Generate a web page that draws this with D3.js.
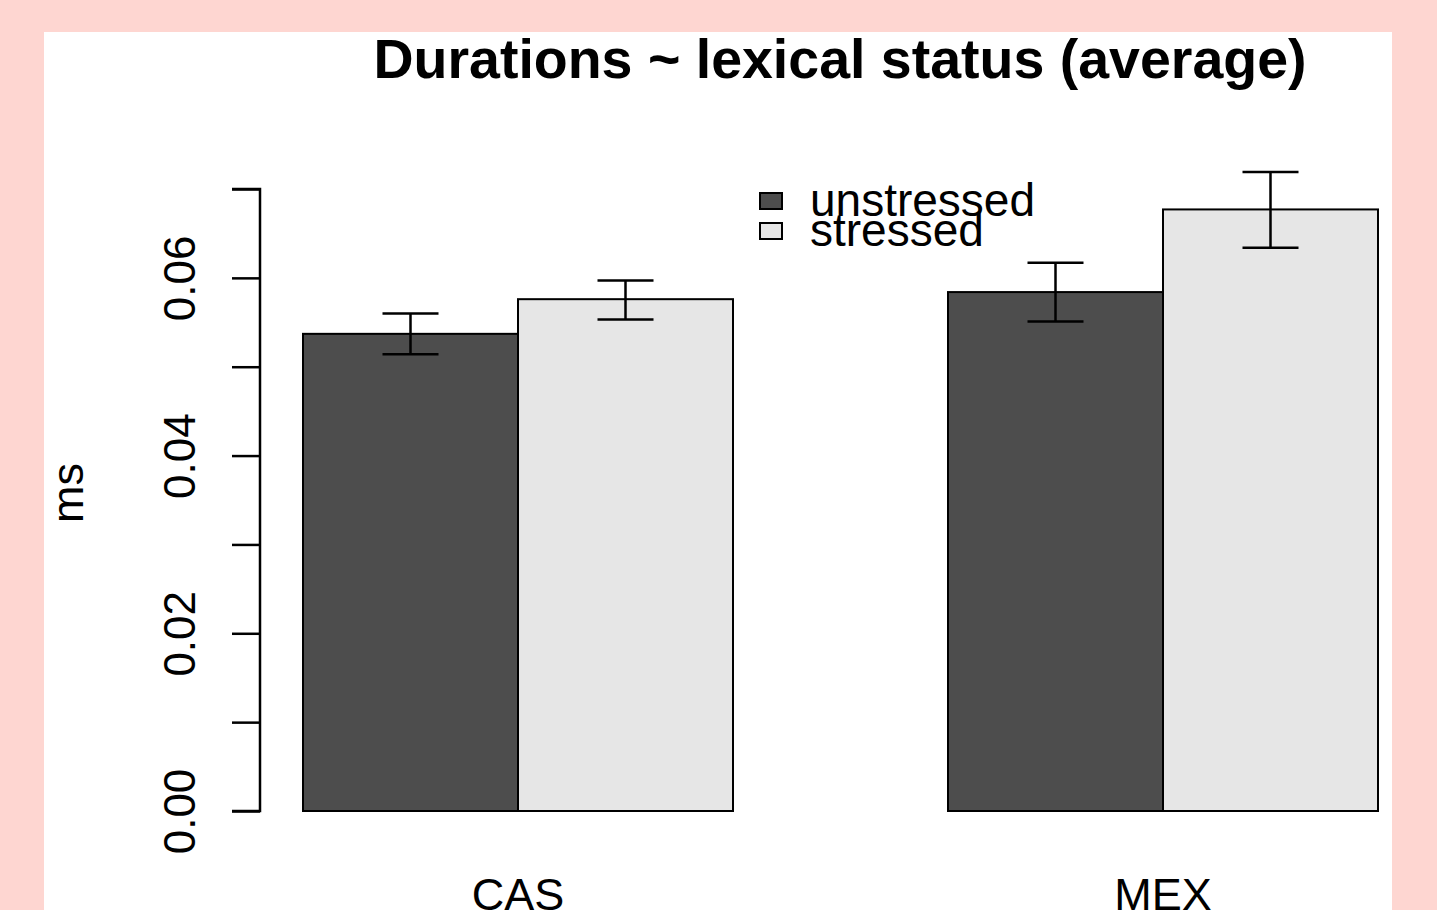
<!DOCTYPE html>
<html>
<head>
<meta charset="utf-8">
<script src="https://cdn.jsdelivr.net/npm/d3@7"></script>
<style>
  body { margin: 0; background: #fed6d1; }
  svg { display: block; font-family: "Liberation Sans", Arial, sans-serif; }
</style>
</head>
<body>
<div id="chart"></div>
<script>
// data
const groups = ["CAS", "MEX"];
const seriesNames = ["unstressed", "stressed"];
const seriesColors = ["#4d4d4d", "#e6e6e6"];
const means = [[0.0537, 0.0576], [0.0584, 0.0677]];
const lower = [[0.0514, 0.0553], [0.0551, 0.0634]];
const upper = [[0.0560, 0.0597], [0.0617, 0.0719]];
const yTicks = [0, 0.01, 0.02, 0.03, 0.04, 0.05, 0.06, 0.07];
const yTickLabels = ["0.00", "", "0.02", "", "0.04", "", "0.06", ""];

const W = 1437, H = 910;
const svg = d3.select("#chart").append("svg")
  .attr("width", W).attr("height", H);

// white panel
svg.append("rect")
  .attr("x", 44).attr("y", 32)
  .attr("width", 1348).attr("height", H - 32)
  .attr("fill", "#fff");

// R-style bar positions: each group = 2 bars, 1 bar of space before
const x = d3.scaleLinear().domain([0, 6]).range([88, 1378]);
const y = d3.scaleLinear().domain([0, 0.07]).range([811, 189]);

const bars = [];
groups.forEach((g, gi) => {
  seriesNames.forEach((s, si) => {
    const pos = gi * 3 + 1 + si;
    bars.push({ g, s, si, pos, v: means[gi][si], lo: lower[gi][si], hi: upper[gi][si] });
  });
});

svg.selectAll(".bar")
  .data(bars)
  .enter().append("rect")
  .attr("class", "bar")
  .attr("x", d => x(d.pos))
  .attr("y", d => y(d.v))
  .attr("width", d => x(d.pos + 1) - x(d.pos))
  .attr("height", d => y(0) - y(d.v))
  .attr("fill", d => seriesColors[d.si])
  .attr("stroke", "#000")
  .attr("stroke-width", 2);

// error bars
const capHalf = 28;
const err = svg.selectAll(".err")
  .data(bars)
  .enter().append("g")
  .attr("class", "err")
  .attr("stroke", "#000")
  .attr("stroke-width", 2.5);

err.append("line")
  .attr("x1", d => x(d.pos + 0.5)).attr("x2", d => x(d.pos + 0.5))
  .attr("y1", d => y(d.lo)).attr("y2", d => y(d.hi));
err.append("line")
  .attr("x1", d => x(d.pos + 0.5) - capHalf).attr("x2", d => x(d.pos + 0.5) + capHalf)
  .attr("y1", d => y(d.hi)).attr("y2", d => y(d.hi));
err.append("line")
  .attr("x1", d => x(d.pos + 0.5) - capHalf).attr("x2", d => x(d.pos + 0.5) + capHalf)
  .attr("y1", d => y(d.lo)).attr("y2", d => y(d.lo));

// y axis
const yAxis = svg.append("g")
  .attr("transform", "translate(260,0)")
  .call(d3.axisLeft(y).tickValues(yTicks).tickSize(28).tickFormat((d, i) => yTickLabels[i]));
yAxis.select(".domain")
  .attr("d", `M-28,${y(0.07)}H0V${y(0)}H-28`)
  .attr("stroke", "#000").attr("stroke-width", 2.5).attr("fill", "none");
yAxis.selectAll(".tick line").attr("stroke", "#000").attr("stroke-width", 2.5);
yAxis.selectAll(".tick text")
  .attr("font-size", 44)
  .attr("fill", "#000")
  .attr("x", null).attr("dy", null)
  .attr("text-anchor", "middle")
  .attr("transform", "translate(-65,0) rotate(-90)");

// y label
svg.append("text")
  .attr("transform", "translate(83,493) rotate(-90)")
  .attr("text-anchor", "middle")
  .attr("font-size", 45)
  .text("ms");

// category labels
svg.selectAll(".cat")
  .data(groups)
  .enter().append("text")
  .attr("class", "cat")
  .attr("x", (d, i) => x(i * 3 + 2))
  .attr("y", 910)
  .attr("text-anchor", "middle")
  .attr("font-size", 45)
  .text(d => d);

// title
svg.append("text")
  .attr("x", 840).attr("y", 78)
  .attr("text-anchor", "middle")
  .attr("font-size", 55.5)
  .attr("font-weight", "bold")
  .text("Durations ~ lexical status (average)");

// legend
const leg = svg.selectAll(".leg")
  .data(seriesNames)
  .enter().append("g")
  .attr("class", "leg")
  .attr("transform", (d, i) => `translate(760,${193 + i * 30})`);
leg.append("rect")
  .attr("width", 22).attr("height", 16)
  .attr("fill", (d, i) => seriesColors[i])
  .attr("stroke", "#000").attr("stroke-width", 2);
leg.append("text")
  .attr("x", 50).attr("y", 23)
  .attr("font-size", 46)
  .text(d => d);
</script>
</body>
</html>
